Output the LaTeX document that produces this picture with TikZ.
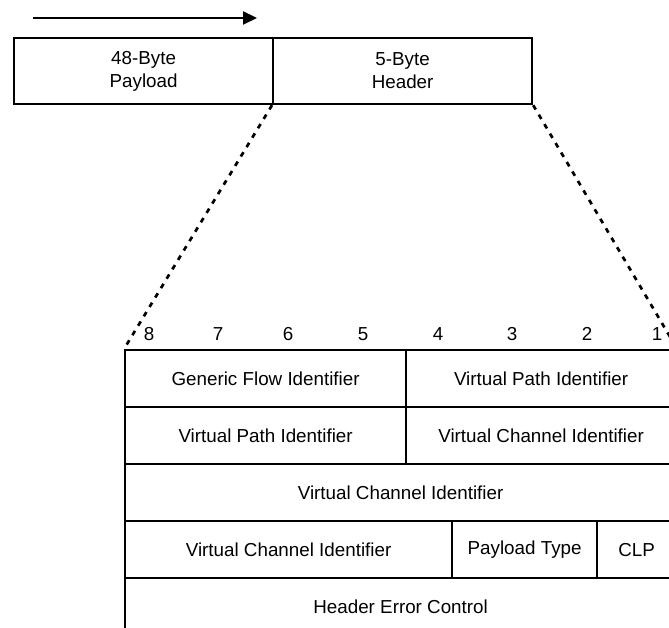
\documentclass[tikz,border=0pt]{standalone}
\usepackage{fontspec}
\setmainfont{Liberation Sans}
\usetikzlibrary{arrows.meta}
\begin{document}
\begin{tikzpicture}[x=1pt,y=-1pt]
\tikzset{
  frame/.style={draw, line width=2.2pt, inner sep=0pt, anchor=north west,
                font=\fontsize{18.8}{23}\selectfont, align=center},
  bitlabel/.style={inner sep=0pt, font=\fontsize{18.8}{23}\selectfont},
  zoomline/.style={line width=2.7pt, dash pattern=on 5pt off 6pt},
  flowarrow/.style={line width=2.2pt, -{Triangle[length=14pt,width=13pt]}}
}
\useasboundingbox (0,0) rectangle (669,628);
\clip (0,0) rectangle (669,628);

% transmission direction
\coordinate (a0) at (33,18);
\coordinate (a1) at (257,18);
\draw[flowarrow] (a0) -- (a1);

% ATM cell: payload and header
\node[frame, minimum width=259pt, minimum height=66pt] (pay) at (13,37) {48-Byte\\Payload};
\node[frame, minimum width=259pt, minimum height=66pt] (hdr) at (272,37) {5-Byte\\Header};

% header layout, one row per octet
\node[frame, minimum width=281pt, minimum height=57pt] (gfi)  at (124,349) {Generic Flow Identifier};
\node[frame, minimum width=270pt, minimum height=57pt] (vpia) at (405,349) {Virtual Path Identifier};
\node[frame, minimum width=281pt, minimum height=57pt] (vpib) at (124,406) {Virtual Path Identifier};
\node[frame, minimum width=270pt, minimum height=57pt] (vcia) at (405,406) {Virtual Channel Identifier};
\node[frame, minimum width=551pt, minimum height=57pt] (vcib) at (124,463) {Virtual Channel Identifier};
\node[frame, minimum width=327pt, minimum height=57pt] (vcic) at (124,520) {Virtual Channel Identifier};
\node[frame, minimum width=145pt, minimum height=57pt] (pt)   at (451,520) {Payload Type};
\node[frame, minimum width=79pt,  minimum height=57pt] (clp)  at (596,520) {CLP};
\node[frame, minimum width=551pt, minimum height=57pt] (hec)  at (124,577) {Header Error Control};

% bit numbers
\node[bitlabel] (b8) at (149,334) {8};
\node[bitlabel] (b7) at (218,334) {7};
\node[bitlabel] (b6) at (288,334) {6};
\node[bitlabel] (b5) at (363,334) {5};
\node[bitlabel] (b4) at (438,334) {4};
\node[bitlabel] (b3) at (512,334) {3};
\node[bitlabel] (b2) at (587,334) {2};
\node[bitlabel] (b1) at (657,334) {1};

% expansion of the header
\draw[zoomline] (hdr.south west) -- (gfi.north west);
\draw[zoomline] (hdr.south east) -- (vpia.north east);
\end{tikzpicture}
\end{document}
